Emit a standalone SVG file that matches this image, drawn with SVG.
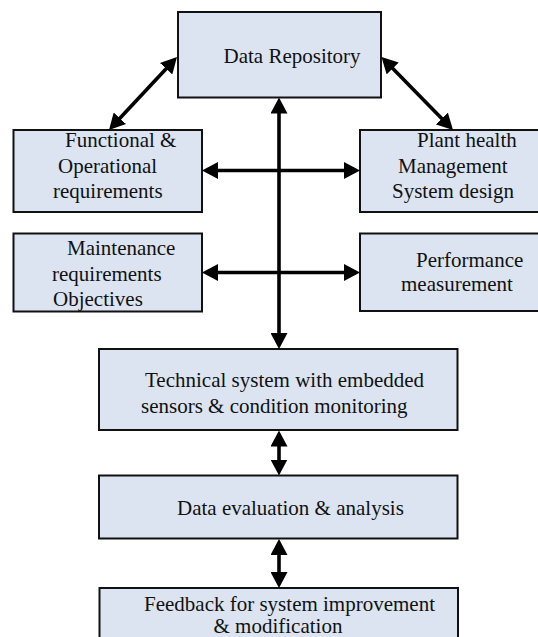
<svg xmlns="http://www.w3.org/2000/svg" width="538" height="637" viewBox="0 0 538 637">
<style>
.box{fill:#dbe4f0;stroke:#111;stroke-width:2}
.t{font-size:21px;fill:#111}
.c{fill:none;stroke:#000;stroke-width:3.6;marker-start:url(#ah);marker-end:url(#ah)}
</style>
<defs>
<marker id="ah" markerUnits="userSpaceOnUse" markerWidth="16" markerHeight="17" refX="10" refY="8.5" orient="auto-start-reverse" viewBox="0 0 16 17">
<path d="M0,0 L16,8.5 L0,17 z" fill="#000"/>
</marker>
</defs>
<rect width="538" height="637" fill="#fff"/>
<g font-family="Liberation Serif, Times New Roman, serif">
<g id="data-repository">
<rect class="box" x="178" y="12" width="203" height="85.5"/>
<text class="t" x="223.5" y="63">Data Repository</text>
</g>
<g id="functional">
<rect class="box" x="13.5" y="130" width="188.5" height="82"/>
<text class="t" x="65" y="147">Functional &amp;</text>
<text class="t" x="58" y="172.5">Operational</text>
<text class="t" x="53" y="198">requirements</text>
</g>
<g id="plant-health">
<rect class="box" x="360" y="130" width="190" height="82"/>
<text class="t" x="417" y="147">Plant health</text>
<text class="t" x="398" y="172.5">Management</text>
<text class="t" x="392" y="198">System design</text>
</g>
<g id="maintenance">
<rect class="box" x="13.5" y="233.5" width="188.5" height="78"/>
<text class="t" x="67" y="254.5">Maintenance</text>
<text class="t" x="52" y="281">requirements</text>
<text class="t" x="53" y="306">Objectives</text>
</g>
<g id="performance">
<rect class="box" x="360" y="233.5" width="190" height="77.5"/>
<text class="t" x="416" y="266.5">Performance</text>
<text class="t" x="401" y="290.5">measurement</text>
</g>
<g id="technical">
<rect class="box" x="99" y="349" width="358.5" height="81"/>
<text class="t" x="145" y="387">Technical system with embedded</text>
<text class="t" x="141" y="413">sensors &amp; condition monitoring</text>
</g>
<g id="data-evaluation">
<rect class="box" x="99" y="475.5" width="358.5" height="63"/>
<text class="t" x="177" y="514.5">Data evaluation &amp; analysis</text>
</g>
<g id="feedback">
<rect class="box" x="99.5" y="588" width="358.5" height="60"/>
<text class="t" x="144" y="610.5">Feedback for system improvement</text>
<text class="t" x="213.5" y="633">&amp; modification</text>
</g>
</g>
<g id="connectors">
<line class="c" x1="279" y1="103.5" x2="279" y2="343"/>
<line class="c" x1="208" y1="170.5" x2="354" y2="170.5"/>
<line class="c" x1="208" y1="272.5" x2="354" y2="272.5"/>
<line class="c" x1="113.1" y1="125.6" x2="172.9" y2="61.4"/>
<line class="c" x1="385.7" y1="61.3" x2="448.8" y2="125.7"/>
<line class="c" x1="279" y1="436.5" x2="279" y2="469.5"/>
<line class="c" x1="279" y1="545" x2="279" y2="582"/>
</g>
</svg>
